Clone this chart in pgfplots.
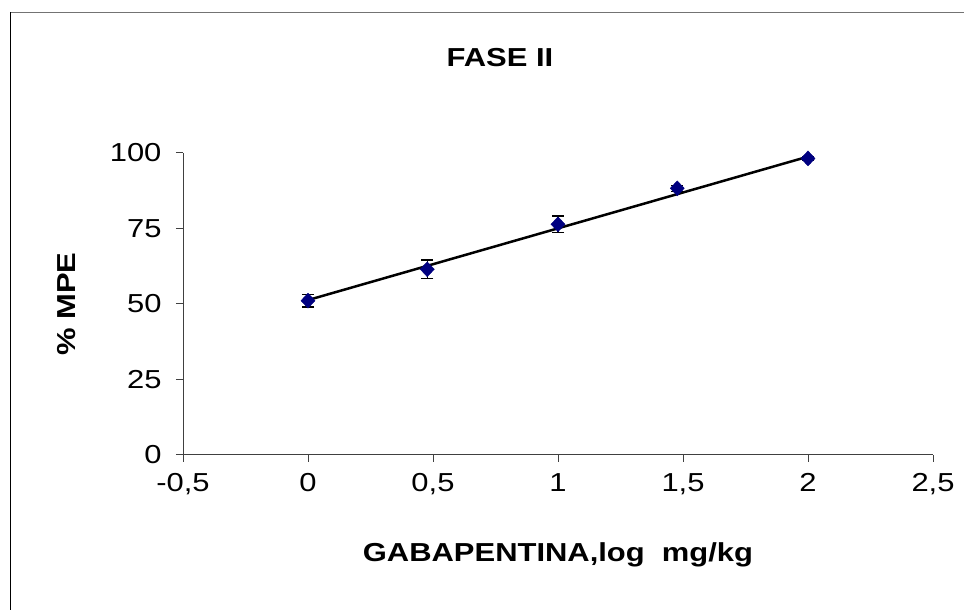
\documentclass[border=0pt]{standalone}
\usepackage{pgfplots}
\pgfplotsset{compat=1.18}
\usepackage{fontspec}
\setmainfont{Liberation Sans}[FakeStretch=1.19]
\definecolor{navy}{HTML}{000080}
\begin{document}
\begin{tikzpicture}[x=1pt,y=1pt]
\useasboundingbox (0,0) rectangle (964,610);
\draw[line width=1pt, black!55] (10,597) -- (964,597);
\draw[line width=1pt, black] (10,0) -- (10,597.5);
\node[anchor=base, inner sep=0pt, font=\bfseries\fontsize{26}{30}\selectfont] at (500,543.3) {FASE II};
\begin{axis}[
  at={(183pt,155pt)}, anchor=south west,
  scale only axis, width=750pt, height=302pt,
  xmin=-0.5, xmax=2.5, ymin=0, ymax=100,
  axis x line*=bottom, axis y line*=left,
  axis line style={-, line width=1pt, black!75},
  tick style={line width=1pt, black!75},
  tick align=outside, major tick length=7pt,
  xtick={-0.5,0,0.5,1,1.5,2,2.5},
  xticklabels={{-0,5},0,{0,5},1,{1,5},2,{2,5}},
  ytick={0,25,50,75,100},
  yticklabels={0,25,50,75,100},
  tick label style={font=\fontsize{26}{30}\selectfont},
  yticklabel style={xshift=-11pt},
  xticklabel style={yshift=-8pt},
  xlabel={GABAPENTINA,log\ \ mg/kg},
  ylabel={\% MPE},
  label style={font=\bfseries\fontsize{26}{30}\selectfont},
  xlabel style={at={(axis description cs:0.5,-0.354)}, anchor=base, inner sep=0pt},
  ylabel style={at={(axis description cs:-0.144,0.5)}, anchor=base, inner sep=0pt},
  clip=false,
]
\addplot[only marks, mark=diamond*, mark size=7.5pt,
  mark options={fill=navy, draw=navy, xscale=1.25},
  error bars/.cd, y dir=both, y explicit,
  error mark=-,
  error bar style={line width=1.5pt, black},
  error mark options={rotate=90, line width=1.5pt, mark size=6pt, black}]
coordinates {
  (0,51.1) +- (0,2.1)
  (0.477,61.5) +- (0,3.0)
  (1,76.4) +- (0,2.7)
  (1.477,88.3) +- (0,1.0)
  (2,98.2) +- (0,0.5)
};
\addplot[black, line width=2.5pt, no marks] coordinates {(0,51.3) (2,98.8)};
\end{axis}
\end{tikzpicture}
\end{document}
